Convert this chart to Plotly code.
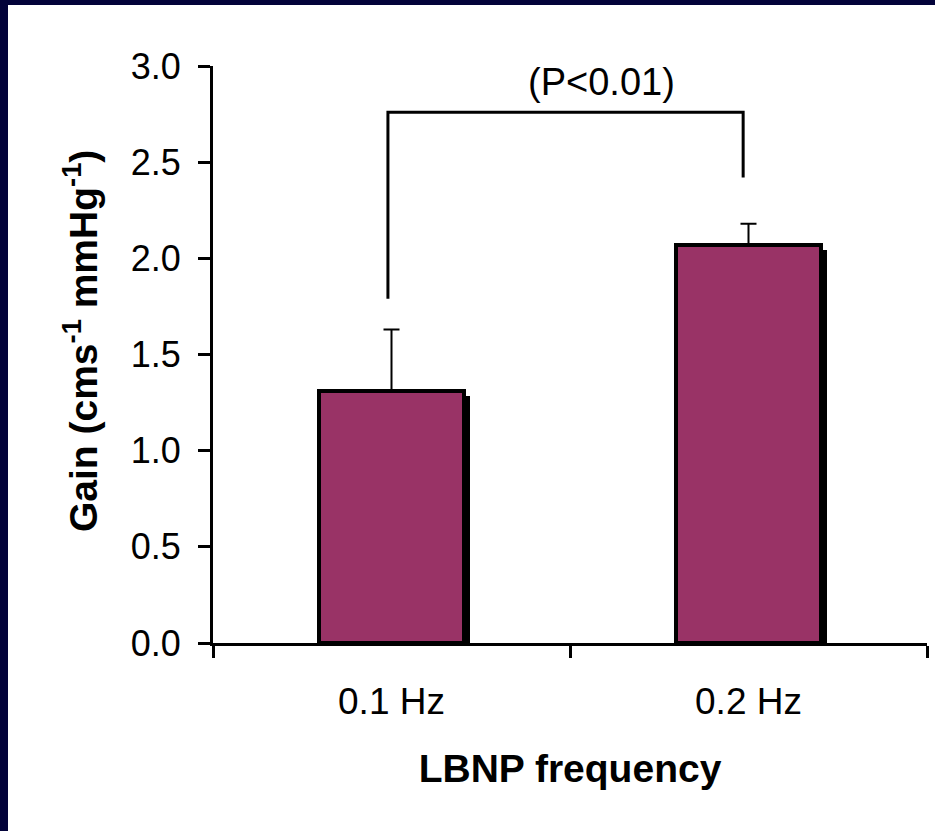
import plotly.graph_objects as go

categories = ["0.1 Hz", "0.2 Hz"]
gain = [1.31, 2.07]
gain_err = [0.32, 0.11]
bracket_left_y = 1.79
bracket_top_y = 2.76
bracket_right_y = 2.42
p_label = "(P<0.01)"
y_ticks = [0.0, 0.5, 1.0, 1.5, 2.0, 2.5, 3.0]
y_title = "<b>Gain (cms<sup>-1</sup> mmHg<sup>-1</sup>)</b>"
x_title = "<b>LBNP frequency</b>"

FONT = "Arial, Liberation Sans, sans-serif"
BAR = "#993366"
NAVY = "#03033a"

xpos = list(range(len(categories)))

fig = go.Figure()
# shadow bars
fig.add_trace(go.Bar(
    x=[x + 0.016 for x in xpos], y=[v - 0.025 for v in gain], width=0.405,
    marker=dict(color="black", line=dict(width=0)), hoverinfo="skip", showlegend=False))
# main bars
fig.add_trace(go.Bar(
    x=xpos, y=gain, width=0.405,
    marker=dict(color=BAR, line=dict(color="black", width=4)),
    error_y=dict(type="data", array=gain_err, arrayminus=[0] * len(gain),
                 symmetric=False, color="black", thickness=2, width=8),
    showlegend=False))

# significance bracket
fig.add_shape(type="path",
              path=f"M -0.01,{bracket_left_y} L -0.01,{bracket_top_y} L 0.985,{bracket_top_y} L 0.985,{bracket_right_y}",
              xref="x", yref="y", line=dict(color="black", width=3))
fig.add_annotation(x=0.587, y=2.915, xref="x", yref="y", text=p_label, showarrow=False,
                   font=dict(family=FONT, size=38, color="black"))

# navy frame (left and top strips)
W, H = 935, 831
L, R, T, B = 213, 8, 66, 188
pw, ph = W - L - R, H - T - B
def px(x):
    return (x - L) / pw
def py(y):
    return (H - B - y) / ph
fig.add_shape(type="rect", xref="paper", yref="paper", x0=px(0), x1=px(8), y0=py(H), y1=py(0),
              fillcolor=NAVY, line=dict(width=0), layer="below")
fig.add_shape(type="rect", xref="paper", yref="paper", x0=px(0), x1=px(W), y0=py(5), y1=py(0),
              fillcolor=NAVY, line=dict(width=0), layer="below")

# y-axis title placed as rotated annotation
fig.add_annotation(x=px(80), y=py(341), xref="paper", yref="paper", text=y_title,
                   textangle=-90, showarrow=False, xanchor="center", yanchor="middle",
                   font=dict(family=FONT, size=39, color="black"))

fig.update_layout(
    width=W, height=H,
    margin=dict(l=L, r=R, t=T, b=B, autoexpand=False),
    paper_bgcolor="white", plot_bgcolor="white",
    barmode="overlay", bargap=0,
    font=dict(family=FONT, color="black"),
    xaxis=dict(
        range=[-0.5, 1.5], tickvals=xpos, ticktext=categories, ticks="",
        tickfont=dict(size=37), ticklabelstandoff=24,
        showline=True, linecolor="black", linewidth=3, showgrid=False, zeroline=False,
        minor=dict(tick0=-0.5, dtick=1, ticks="outside", ticklen=12, tickwidth=3, tickcolor="black"),
        title=dict(text=x_title, font=dict(size=39), standoff=34),
        automargin=False,
    ),
    yaxis=dict(
        range=[0, 3], tickvals=y_ticks, tickformat=".1f",
        ticks="outside", ticklen=12, tickwidth=3, tickcolor="black",
        tickfont=dict(size=36), ticklabelstandoff=10,
        showline=True, linecolor="black", linewidth=3, showgrid=False, zeroline=False,
        automargin=False,
    ),
)

fig.write_html("out.html")
